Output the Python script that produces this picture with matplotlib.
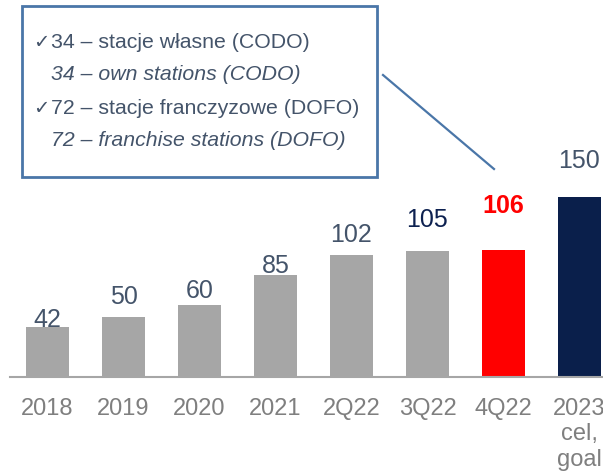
import matplotlib.pyplot as plt
from matplotlib.patches import Rectangle
from matplotlib.lines import Line2D

plt.rcParams['font.family'] = ['Liberation Sans', 'DejaVu Sans']

categories = ['2018', '2019', '2020', '2021', '2Q22', '3Q22', '4Q22', '2023\ncel,\ngoal']
stations = [42, 50, 60, 85, 102, 105, 106, 150]
bar_colors = ['#a6a6a6'] * 6 + ['#ff0000', '#0a1f4b']
label_colors = ['#44546a'] * 5 + ['#0d2150', '#ff0000', '#44546a']
label_weights = ['normal'] * 6 + ['bold', 'normal']
label_lift = [0, 9.4, 4.8, 1.2, 9.1, 17, 26.6, 20.9]  # points above bar top

box_lines = [
    ('\u2713', '34 \u2013 stacje własne (CODO)', 'normal'),
    ('', '34 \u2013 own stations (CODO)', 'italic'),
    ('\u2713', '72 \u2013 stacje franczyzowe (DOFO)', 'normal'),
    ('', '72 \u2013 franchise stations (DOFO)', 'italic'),
]

W, H = 603, 475
fig = plt.figure(figsize=(W / 100, H / 100), dpi=100)

# axes extend past the right edge so the last bar is cut like in the source
ax = fig.add_axes([9.5 / W, (H - 377) / H, 608 / W, 198 / H])
x = range(len(categories))
ax.bar(x, stations, width=0.57, color=bar_colors, zorder=2)
ax.set_xlim(-0.5, 7.5)
ax.set_ylim(0, 165)

for i, v in enumerate(stations):
    ax.annotate(str(v), (i, v), xytext=(0, label_lift[i]), textcoords='offset points',
                ha='center', va='baseline', fontsize=18, color=label_colors[i],
                fontweight=label_weights[i])

ax.set_xticks(list(x))
ax.set_xticklabels(categories, fontsize=17, color='#7f7f7f', linespacing=1.2)
ax.tick_params(axis='x', length=0, pad=15)
ax.set_yticks([])
for s in ['top', 'right', 'left']:
    ax.spines[s].set_visible(False)
ax.spines['bottom'].set_color('#a6a6a6')
ax.spines['bottom'].set_linewidth(1.5)
ax.spines['bottom'].set_zorder(3)

# callout box with connector
box_col = '#4a76a8'
fig.add_artist(Rectangle((22 / W, 1 - 177 / H), 355 / W, 171 / H, transform=fig.transFigure,
                         facecolor='white', edgecolor=box_col, linewidth=2))
fig.add_artist(Line2D([383 / W, 494 / W], [1 - 75 / H, 1 - 169 / H], transform=fig.transFigure,
                      color=box_col, linewidth=1.6))
for k, (mark, txt, style) in enumerate(box_lines):
    yy = 1 - (42 + 33 * k) / H
    if mark:
        fig.text(33 / W, yy, mark, fontsize=14, color='#44546a', va='center',
                 family=['DejaVu Sans'])
    fig.text(51 / W, yy, txt, fontsize=15.3, color='#44546a', va='center', style=style)

fig.savefig('out.png', dpi=100)
